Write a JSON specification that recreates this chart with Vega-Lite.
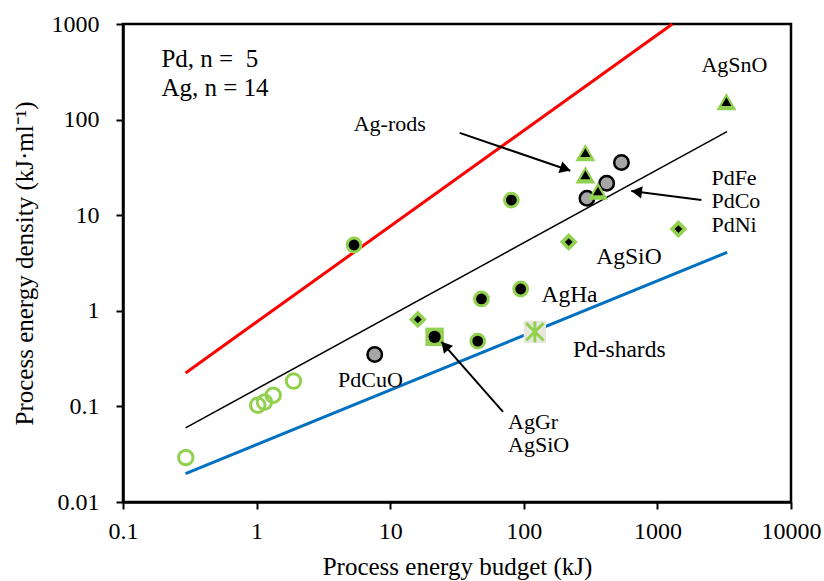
{
  "$schema": "https://vega.github.io/schema/vega-lite/v6.json",
  "width": 668,
  "height": 478,
  "autosize": {"type": "none"},
  "padding": {"left": 123, "top": 24, "right": 33, "bottom": 79},
  "background": "white",
  "config": {
    "font": "Liberation Serif",
    "view": {"stroke": "#000", "strokeWidth": 2.5},
    "axis": {
      "grid": false, "domainColor": "#000", "domainWidth": 2.5,
      "tickColor": "#000", "tickWidth": 2, "tickSize": 7,
      "labelColor": "#000", "titleColor": "#000",
      "labelFont": "Liberation Serif", "titleFont": "Liberation Serif",
      "labelFontSize": 24, "titleFontSize": 25, "titleFontWeight": "normal",
      "labelFlush": false, "labelOverlap": false, "labelBound": false
    }
  },
  "datasets": {
    "lines": [
      {"line": "red", "x": 0.294, "y": 0.224}, {"line": "red", "x": 1295, "y": 1000},
      {"line": "black", "x": 0.294, "y": 0.0596}, {"line": "black", "x": 3319, "y": 74.8},
      {"line": "blue", "x": 0.294, "y": 0.0198}, {"line": "blue", "x": 3330, "y": 4.09}
    ],
    "points": [
      {"g": "open", "x": 0.295, "y": 0.0292},
      {"g": "open", "x": 1.02, "y": 0.103},
      {"g": "open", "x": 1.145, "y": 0.111},
      {"g": "open", "x": 1.33, "y": 0.131},
      {"g": "open", "x": 1.89, "y": 0.184},
      {"g": "bg", "x": 5.36, "y": 4.88},
      {"g": "bg", "x": 80.7, "y": 14.4},
      {"g": "bg", "x": 48.2, "y": 1.33},
      {"g": "bg", "x": 94.8, "y": 1.69},
      {"g": "bg", "x": 45.2, "y": 0.482},
      {"g": "sq", "x": 21.5, "y": 0.534},
      {"g": "dia", "x": 16.1, "y": 0.813},
      {"g": "dia", "x": 217, "y": 5.24},
      {"g": "dia", "x": 1436, "y": 7.17},
      {"g": "grey", "x": 7.66, "y": 0.349},
      {"g": "grey", "x": 538, "y": 35.5},
      {"g": "grey", "x": 417, "y": 21.6},
      {"g": "grey", "x": 297, "y": 15.0},
      {"g": "tri", "x": 289, "y": 45.1},
      {"g": "tri", "x": 289, "y": 26.4},
      {"g": "tri", "x": 359, "y": 17.9},
      {"g": "tri", "x": 3284, "y": 154},
      {"g": "ast", "x": 121, "y": 0.603}
    ],
    "arrows": [
      {"a": "rods", "x": 33.1, "y": 72.6, "x2": 223, "y2": 29.2},
      {"a": "pd", "x": 2134, "y": 14.4, "x2": 638, "y2": 17.9},
      {"a": "gr", "x": 69.9, "y": 0.0876, "x2": 24.2, "y2": 0.473}
    ],
    "heads": [
      {"a": "rods", "x": 204.8, "y": 30.5},
      {"a": "pd", "x": 699, "y": 17.6},
      {"a": "gr", "x": 25.7, "y": 0.43}
    ],
    "bigtext": [
      {"t": "Pd, n = \u00a05", "x": 0.194, "y": 359},
      {"t": "Ag, n = 14", "x": 0.194, "y": 177}
    ],
    "labels": [
      {"t": "Ag-rods", "x": 5.33, "y": 76.2},
      {"t": "AgSnO", "x": 2134, "y": 318},
      {"t": "PdFe", "x": 2536, "y": 20.7},
      {"t": "PdCo", "x": 2536, "y": 11.8},
      {"t": "PdNi", "x": 2536, "y": 6.72},
      {"t": "AgGr", "x": 76.2, "y": 0.0587},
      {"t": "AgSiO", "x": 76.2, "y": 0.0334},
      {"t": "PdCuO", "x": 4.07, "y": 0.16}
    ],
    "labels2": [
      {"t": "AgSiO", "x": 349, "y": 3.08},
      {"t": "AgHa", "x": 135.5, "y": 1.24},
      {"t": "Pd-shards", "x": 233, "y": 0.33}
    ]
  },
  "encoding": {
    "x": {"field": "x", "type": "quantitative",
      "scale": {"type": "log", "domain": [0.1, 10000]},
      "axis": {"values": [0.1, 1, 10, 100, 1000, 10000], "format": "~g",
        "title": "Process energy budget (kJ)", "labelPadding": 10, "titlePadding": 11}},
    "y": {"field": "y", "type": "quantitative",
      "scale": {"type": "log", "domain": [0.01, 1000]},
      "axis": {"values": [0.01, 0.1, 1, 10, 100, 1000], "format": "~g",
        "title": "Process energy density (kJ·ml⁻¹)", "labelPadding": 17, "titlePadding": 14}}
  },
  "layer": [
    {"data": {"name": "lines"}, "transform": [{"filter": "datum.line === 'red'"}],
     "mark": {"type": "line", "color": "#FF0000", "strokeWidth": 3}, "encoding": {}},
    {"data": {"name": "lines"}, "transform": [{"filter": "datum.line === 'black'"}],
     "mark": {"type": "line", "color": "#000000", "strokeWidth": 1.5}, "encoding": {}},
    {"data": {"name": "lines"}, "transform": [{"filter": "datum.line === 'blue'"}],
     "mark": {"type": "line", "color": "#0070C0", "strokeWidth": 3}, "encoding": {}},
    {"data": {"name": "points"}, "transform": [{"filter": "datum.g === 'open'"}],
     "mark": {"type": "point", "shape": "circle", "filled": false, "stroke": "#92D050", "strokeWidth": 3, "size": 210, "opacity": 1}},
    {"data": {"name": "points"}, "transform": [{"filter": "datum.g === 'dia'"}],
     "mark": {"type": "point", "shape": "diamond", "filled": true, "fill": "#92D050", "size": 320, "opacity": 1}},
    {"data": {"name": "points"}, "transform": [{"filter": "datum.g === 'dia'"}],
     "mark": {"type": "point", "shape": "diamond", "filled": true, "fill": "#000", "size": 60, "opacity": 1}},
    {"data": {"name": "points"}, "transform": [{"filter": "datum.g === 'sq'"}],
     "mark": {"type": "point", "shape": "square", "filled": true, "fill": "#92D050", "size": 340, "opacity": 1}},
    {"data": {"name": "points"}, "transform": [{"filter": "datum.g === 'sq'"}],
     "mark": {"type": "point", "shape": "circle", "filled": true, "fill": "#000", "size": 150, "opacity": 1}},
    {"data": {"name": "points"}, "transform": [{"filter": "datum.g === 'grey'"}],
     "mark": {"type": "point", "shape": "circle", "filled": true, "fill": "#A6A6A6", "stroke": "#000", "strokeWidth": 2.5, "size": 210, "opacity": 1}},
    {"data": {"name": "points"}, "transform": [{"filter": "datum.g === 'bg'"}],
     "mark": {"type": "point", "shape": "circle", "filled": true, "fill": "#000", "stroke": "#92D050", "strokeWidth": 3, "size": 190, "opacity": 1}},
    {"data": {"name": "points"}, "transform": [{"filter": "datum.g === 'tri'"}],
     "mark": {"type": "point", "shape": "triangle-up", "filled": true, "fill": "#92D050", "size": 400, "opacity": 1}},
    {"data": {"name": "points"}, "transform": [{"filter": "datum.g === 'tri'"}],
     "mark": {"type": "point", "shape": "triangle-up", "filled": true, "fill": "#000", "size": 100, "opacity": 1}},
    {"data": {"name": "points"}, "transform": [{"filter": "datum.g === 'ast'"}],
     "mark": {"type": "point", "shape": "square", "filled": true, "fill": "#E8E8DF", "size": 500, "opacity": 1}},
    {"data": {"name": "points"}, "transform": [{"filter": "datum.g === 'ast'"}],
     "mark": {"type": "point", "shape": "M-1,-1L1,1M-1,1L1,-1M0,-1.2L0,1.2", "filled": false, "stroke": "#92D050", "strokeWidth": 3, "size": 300, "opacity": 1}},
    {"data": {"name": "arrows"},
     "mark": {"type": "rule", "color": "#000", "strokeWidth": 2},
     "encoding": {"x2": {"field": "x2"}, "y2": {"field": "y2"}}},
    {"data": {"name": "heads"}, "transform": [{"filter": "datum.a === 'rods'"}],
     "mark": {"type": "point", "shape": "triangle-right", "filled": true, "fill": "#000", "size": 150, "angle": 18.8, "opacity": 1}},
    {"data": {"name": "heads"}, "transform": [{"filter": "datum.a === 'pd'"}],
     "mark": {"type": "point", "shape": "triangle-right", "filled": true, "fill": "#000", "size": 150, "angle": 187.3, "opacity": 1}},
    {"data": {"name": "heads"}, "transform": [{"filter": "datum.a === 'gr'"}],
     "mark": {"type": "point", "shape": "triangle-right", "filled": true, "fill": "#000", "size": 150, "angle": 228.6, "opacity": 1}},
    {"data": {"name": "bigtext"},
     "mark": {"type": "text", "align": "left", "baseline": "alphabetic", "fontSize": 25, "font": "Liberation Serif", "color": "#000"},
     "encoding": {"text": {"field": "t"}}},
    {"data": {"name": "labels"},
     "mark": {"type": "text", "align": "left", "baseline": "alphabetic", "fontSize": 22, "font": "Liberation Serif", "color": "#000"},
     "encoding": {"text": {"field": "t"}}},
    {"data": {"name": "labels2"},
     "mark": {"type": "text", "align": "left", "baseline": "alphabetic", "fontSize": 23.5, "font": "Liberation Serif", "color": "#000"},
     "encoding": {"text": {"field": "t"}}}
  ]
}
